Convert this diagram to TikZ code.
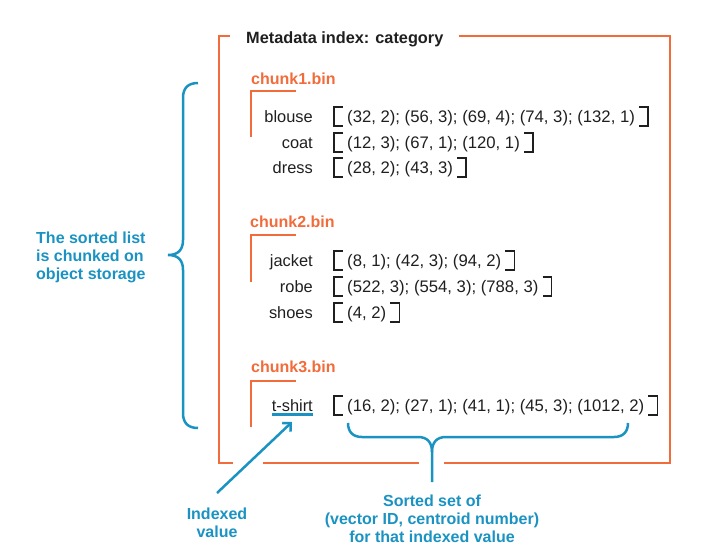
\documentclass[tikz,border=0pt]{standalone}
\usepackage{fontspec}
\setmainfont{Liberation Sans}
\usetikzlibrary{arrows.meta,calc}
\definecolor{org}{HTML}{F26B3A}
\definecolor{blu}{HTML}{1A92C2}
\definecolor{ink}{HTML}{1F1F1F}
\tikzset{
  frameline/.style={draw=org, line width=2.5pt},
  chunkmark/.style={draw=org, line width=2.5pt},
  chunklbl/.style={text=org, font=\fontsize{16}{19}\selectfont\bfseries, inner sep=0pt},
  titlelbl/.style={text=ink, font=\fontsize{16.3}{19}\selectfont\bfseries, inner sep=0pt},
  lbl/.style={text=ink, font=\fontsize{16.4}{19}\selectfont, inner sep=0pt},
  dat/.style={text=ink, font=\fontsize{16.7}{19}\selectfont, inner sep=0pt},
  brk/.style={draw=ink, line width=1.5pt},
  blueline/.style={draw=blu, line width=2.5pt},
  note/.style={text=blu, font=\fontsize{16}{18}\selectfont\bfseries, inner sep=0pt}
}
\newcommand\datarow[4]{%
  \node[lbl, anchor=base east] (#1l) at (313,#2) {#3};
  \node[dat, anchor=base west] (#1d) at (347,#2) {#4};
  \draw[brk] ($(#1d.base west)+(-4,-15)$) -- ($(#1d.base west)+(-13,-15)$) -- ($(#1d.base west)+(-13,4)$) -- ($(#1d.base west)+(-4,4)$);
  \draw[brk] ($(#1d.base east)+(4,-15)$) -- ($(#1d.base east)+(13,-15)$) -- ($(#1d.base east)+(13,4)$) -- ($(#1d.base east)+(4,4)$);
}
\begin{document}
\begin{tikzpicture}[x=1pt,y=-1pt]
\useasboundingbox (0,0) rectangle (715,558);
% outer frame
\draw[frameline] (230,36) -- (219,36) -- (219,463) -- (233,463);
\draw[frameline] (263,463) -- (419,463);
\draw[frameline] (444,463) -- (670,463) -- (670,36) -- (459,36);
\node[titlelbl, anchor=base west] (title) at (246,43) {Metadata index: category};
% chunk 1
\node[chunklbl, anchor=base west] (c1) at (251,84) {chunk1.bin};
\draw[chunkmark] (296,91) -- (251,91) -- (251,137);
\datarow{blouse}{122}{blouse}{(32, 2); (56, 3); (69, 4); (74, 3); (132, 1)}
\datarow{coat}{148}{coat}{(12, 3); (67, 1); (120, 1)}
\datarow{dress}{173}{dress}{(28, 2); (43, 3)}
% chunk 2
\node[chunklbl, anchor=base west] (c2) at (250,227) {chunk2.bin};
\draw[chunkmark] (296,235) -- (251,235) -- (251,282);
\datarow{jacket}{266}{jacket}{(8, 1); (42, 3); (94, 2)}
\datarow{robe}{292}{robe}{(522, 3); (554, 3); (788, 3)}
\datarow{shoes}{318}{shoes}{(4, 2)}
% chunk 3
\node[chunklbl, anchor=base west] (c3) at (251,372) {chunk3.bin};
\draw[chunkmark] (296,381) -- (251,381) -- (251,427);
\datarow{tshirt}{411}{t-shirt}{(16, 2); (27, 1); (41, 1); (45, 3); (1012, 2)}
\draw[blueline] ($(tshirtl.base west)+(0,3.5)$) -- ($(tshirtl.base east)+(0,3.5)$);
% left brace
\draw[blueline] (198,83) .. controls (188,83) and (183,88) .. (183,98) -- (183,240)
  .. controls (183,250) and (178,255) .. (168,255)
  .. controls (178,255) and (183,260) .. (183,270) -- (183,413)
  .. controls (183,423) and (188,428) .. (198,428);
\node[note, anchor=base west, align=left] (sortednote) at (36,279) {The sorted list\\is chunked on\\object storage};
% bottom brace
\draw[blueline] (348,423) .. controls (348,432) and (353,437) .. (362,437) -- (418,437)
  .. controls (427,437) and (432,442) .. (432,452) -- (432,482);
\draw[blueline] (628,423) .. controls (628,432) and (623,437) .. (614,437) -- (446,437)
  .. controls (437,437) and (432,442) .. (432,452);
\node[note, anchor=base, align=center] (setnote) at (432,542) {Sorted set of\\(vector ID, centroid number)\\for that indexed value};
% indexed value arrow
\node[note, anchor=base, align=center] (idxnote) at (217,537) {Indexed\\value};
\coordinate (arrs) at (217,493);
\coordinate (arre) at (292,422);
\draw[blueline, -{Straight Barb[length=6pt,width=12pt,line width=2.5pt]}] (arrs) -- (arre);
\end{tikzpicture}
\end{document}
